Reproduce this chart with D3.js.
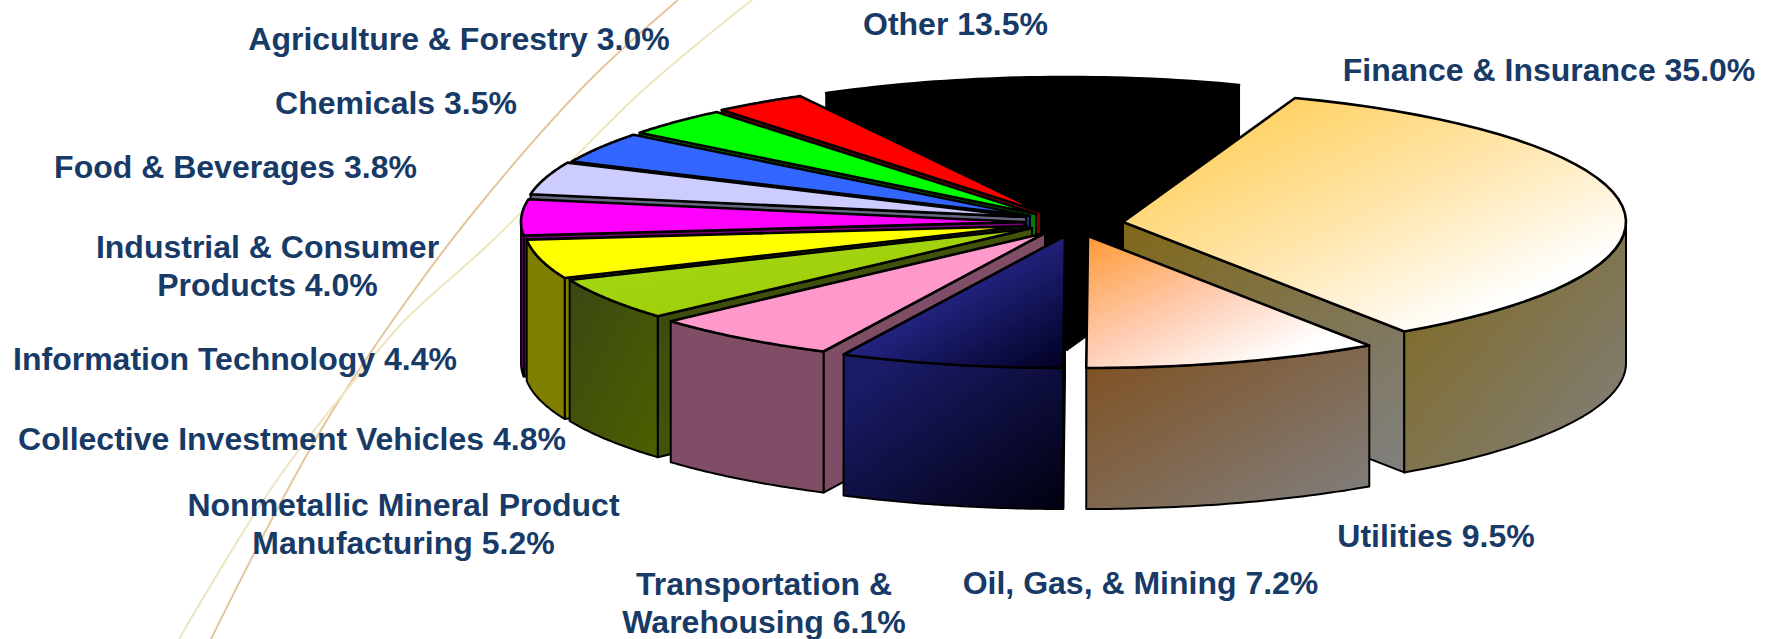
<!DOCTYPE html>
<html>
<head>
<meta charset="utf-8">
<title>Portfolio by sector</title>
<script src="https://cdn.jsdelivr.net/npm/d3@7/dist/d3.min.js"></script>
<style>
  html, body { margin: 0; padding: 0; background: #fff; }
  svg { display: block; }
  text { font-family: "Liberation Sans", Arial, sans-serif; font-weight: 700; fill: #173a66; }
</style>
</head>
<body>
<svg id="chart" width="1770" height="639"></svg>
<script>
// Sector names and their share of the total, clockwise from the large slice
const sectors = ["Finance & Insurance", "Utilities", "Oil, Gas, & Mining", "Transportation & Warehousing",
  "Nonmetallic Mineral Product Manufacturing", "Collective Investment Vehicles", "Information Technology",
  "Industrial & Consumer Products", "Food & Beverages", "Chemicals", "Agriculture & Forestry", "Other"];
const shares = [35.0, 9.5, 7.2, 6.1, 5.2, 4.8, 4.4, 4.0, 3.8, 3.5, 3.0, 13.5];

// Top-face gradient of each slice: [offset, colour] stops
const topStops = [
  [[0, "#ffc840"], [0.5, "#ffe6ae"], [0.82, "#ffffff"]],
  [[0, "#ff9933"], [0.45, "#ffcdb4"], [0.8, "#ffffff"]],
  [[0.3, "#2d2d9c"], [1, "#000022"]],
  [[0, "#ff99cc"]],
  [[0, "#a8d818"], [1, "#99cc00"]],
  [[0, "#ffff00"]],
  [[0, "#ff00ff"]],
  [[0, "#ccccff"]],
  [[0, "#3366ff"]],
  [[0, "#00ff00"]],
  [[0, "#ff0000"]],
  [[0, "#000000"]]
];
// Side-face gradient of each slice
const wallStops = [
  [[0, "#806818"], [1, "#808080"]],
  [[0, "#804f1e"], [1, "#808080"]],
  [[0.15, "#1a1a66"], [1, "#00000f"]],
  [[0, "#804d66"]],
  [[0, "#3a4812"], [1, "#4b6000"]],
  [[0, "#808000"]],
  [[0, "#800080"]],
  [[0, "#666680"]],
  [[0, "#1a3380"]],
  [[0, "#008000"]],
  [[0, "#800000"]],
  [[0, "#000000"]]
];

// Label lines and label centres
const labelLines = [["Finance & Insurance 35.0%"], ["Utilities 9.5%"], ["Oil, Gas, & Mining 7.2%"],
  ["Transportation &", "Warehousing 6.1%"], ["Nonmetallic Mineral Product", "Manufacturing 5.2%"],
  ["Collective Investment Vehicles 4.8%"], ["Information Technology 4.4%"],
  ["Industrial & Consumer", "Products 4.0%"], ["Food & Beverages 3.8%"], ["Chemicals 3.5%"],
  ["Agriculture & Forestry 3.0%"], ["Other 13.5%"]];
const labelX = [1549, 1436, 1140.5, 764, 403.5, 292, 235, 267.5, 235.5, 396, 459, 955.5];
const labelY = [70, 536, 583, 583.5, 504.5, 439, 359, 247, 167, 103, 39, 24];

// Where each exploded slice has its point on the top face
const apexX = [1123, 1088, 1065, 1045, 1032, 1027, 1024, 1026, 1030, 1036, 1041, 1067];
const apexY = [222, 236, 236, 233, 228, 226, 222, 217, 216, 214, 212, 209];

// Curved ornament lines behind the chart
const swooshOrange = [[678, 0], [587, 83], [473, 213], [393, 320], [327, 420], [273, 517], [211, 639]];
const swooshPale = [[752, 0], [640, 93], [490, 243], [405, 320], [357, 377], [277, 480], [179, 639]];

const rx = 503, ry = 132, depth = 141;
const svg = d3.select("#chart");
const defs = svg.append("defs");

const swooshLine = d3.line().curve(d3.curveCatmullRom.alpha(0.5));
svg.append("path").attr("d", swooshLine(swooshOrange)).attr("fill", "none").attr("stroke", "#e6c59c").attr("stroke-width", 2);
svg.append("path").attr("d", swooshLine(swooshPale)).attr("fill", "none").attr("stroke", "#eee5bf").attr("stroke-width", 2);

const pie = d3.pie().sort(null)
  .startAngle(20 * Math.PI / 180)
  .endAngle(380 * Math.PI / 180);

const slices = pie(shares).map((d, i) => ({ ...d, i }));

function gradient(id, stops) {
  const g = defs.append("linearGradient").attr("id", id)
    .attr("x1", 0).attr("y1", 0).attr("x2", 1).attr("y2", 1);
  stops.forEach(([offset, color]) => g.append("stop").attr("offset", offset).attr("stop-color", color));
}
slices.forEach(s => {
  gradient("top" + s.i, topStops[s.i]);
  gradient("wall" + s.i, wallStops[s.i]);
});

const px = (s, a) => apexX[s.i] + rx * Math.sin(a);
const py = (s, a) => apexY[s.i] - ry * Math.cos(a);
const outline = d3.line();
const arcPoints = (s, a0, a1, dy) => d3.range(0, 41).map(k => {
  const a = a0 + (a1 - a0) * k / 40;
  return [px(s, a), py(s, a) + dy];
});

// Back slices are painted first so nearer ones overlap them
const order = slices.slice().sort((a, b) =>
  Math.cos((b.startAngle + b.endAngle) / 2) - Math.cos((a.startAngle + a.endAngle) / 2));

const groups = svg.selectAll("g.slice").data(order).join("g").attr("class", "slice");

groups.each(function (s) {
  const g = d3.select(this);
  const cx = apexX[s.i], cy = apexY[s.i];
  const wallStyle = sel => sel.attr("fill", `url(#wall${s.i})`).attr("stroke", "#000")
    .attr("stroke-width", 2).attr("stroke-linejoin", "round");

  // Cut faces: one shows on the left half of the pie, the other on the right
  const radial = a => {
    const p = [px(s, a), py(s, a)];
    return outline([[cx, cy], p, [p[0], p[1] + depth], [cx, cy + depth]]) + "Z";
  };
  if (Math.sin(s.startAngle) < 0) g.append("path").attr("d", radial(s.startAngle)).call(wallStyle);
  if (Math.sin(s.endAngle) > 0) g.append("path").attr("d", radial(s.endAngle)).call(wallStyle);

  // Rim: only the part of the arc that faces the viewer
  const half = Math.PI / 2, full = Math.PI * 2;
  [0, 1].forEach(n => {
    const lo = Math.max(s.startAngle, half + n * full), hi = Math.min(s.endAngle, half + Math.PI + n * full);
    if (hi > lo) {
      const up = arcPoints(s, lo, hi, 0), down = arcPoints(s, hi, lo, depth);
      g.append("path").attr("d", outline(up.concat(down)) + "Z").call(wallStyle);
    }
  });

  // Top face
  g.append("path")
    .attr("d", outline([[cx, cy]].concat(arcPoints(s, s.startAngle, s.endAngle, 0))) + "Z")
    .attr("fill", `url(#top${s.i})`)
    .attr("stroke", "#000").attr("stroke-width", 2.6).attr("stroke-linejoin", "round");
});

// Labels
const lineStep = 38;
slices.forEach(s => {
  labelLines[s.i].forEach((line, k) => {
    svg.append("text")
      .attr("x", labelX[s.i])
      .attr("y", labelY[s.i] + k * lineStep)
      .attr("dy", "0.35em")
      .attr("text-anchor", "middle")
      .attr("font-size", 32)
      .text(line);
  });
});
</script>
</body>
</html>
